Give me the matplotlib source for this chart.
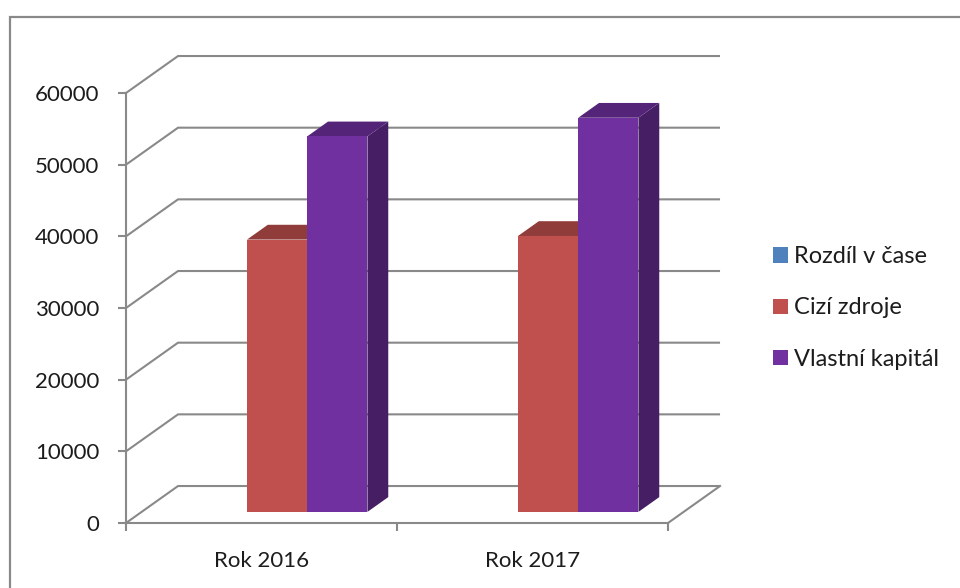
import matplotlib
matplotlib.use("Agg")
import matplotlib.pyplot as plt
from matplotlib.patches import Polygon, Patch, Rectangle
from matplotlib.colors import to_rgb

plt.rcParams['font.family'] = ['Lato', 'DejaVu Sans']

# chart data
categories = ["Rok 2016", "Rok 2017"]
series_names = ["Rozdíl v čase", "Cizí zdroje", "Vlastní kapitál"]
rozdil = [0, 0]
cizi_zdroje = [38000, 38500]
vlastni_kapital = [52400, 55000]
series_colors = ["#4F81BD", "#C0504D", "#7030A0"]
y_ticks = [0, 10000, 20000, 30000, 40000, 50000, 60000]

series_values = [rozdil, cizi_zdroje, vlastni_kapital]

GRID = "#898989"
TEXT = "#1c1c1c"

# oblique depth of the plot box, in data units
DX = 0.192
DY = 5160
# bars sit between these fractions of the depth
D_FRONT, D_BACK = 0.3, 0.7
GAP = 1.5  # gap width relative to bar width


def shade(color, f):
    r, g, b = to_rgb(color)
    return (r * f, g * f, b * f)


W, H = 960, 588
fig = plt.figure(figsize=(W / 100, H / 100), dpi=100)
ax = fig.add_axes([126 / W, 1 - 523 / H, (668 - 126) / W, (523 - 93) / H])
ax.set_xlim(0, len(categories))
ax.set_ylim(0, y_ticks[-1])
ax.patch.set_visible(False)

# outer chart frame (cut off at the right and bottom)
fig.patches.append(Rectangle((10 / W, -0.05), 1.0, 1 - 17 / H + 0.05,
                             transform=fig.transFigure, fill=False,
                             edgecolor=GRID, linewidth=1.6))

# gridlines on the left and back walls
xmax = len(categories)
for v in y_ticks:
    ax.plot([0, DX, xmax + DX], [v, v + DY, v + DY], color=GRID,
            linewidth=1.5, clip_on=False, zorder=1, solid_capstyle='butt')
# right edge of the floor
ax.plot([xmax, xmax + DX], [0, DY], color=GRID, linewidth=1.5,
        clip_on=False, zorder=1)

# 3D columns
n = len(series_values)
w = 1.0 / (n + GAP)
for ci in range(len(categories)):
    for si, vals in enumerate(series_values):
        v = vals[ci]
        if v == 0:
            continue
        col = series_colors[si]
        x0 = ci + 0.5 - n * w / 2 + si * w
        fx, fy = D_FRONT * DX, D_FRONT * DY
        bx, by = D_BACK * DX, D_BACK * DY
        front = Polygon([(x0 + fx, fy), (x0 + w + fx, fy),
                         (x0 + w + fx, v + fy), (x0 + fx, v + fy)],
                        closed=True, facecolor=col, edgecolor='none')
        top = Polygon([(x0 + fx, v + fy), (x0 + w + fx, v + fy),
                       (x0 + w + bx, v + by), (x0 + bx, v + by)],
                      closed=True, facecolor=shade(col, 0.75), edgecolor='none')
        side = Polygon([(x0 + w + fx, fy), (x0 + w + bx, by),
                        (x0 + w + bx, v + by), (x0 + w + fx, v + fy)],
                       closed=True, facecolor=shade(col, 0.62), edgecolor='none')
        for p in (side, top, front):
            p.set_clip_on(False)
            p.set_zorder(3 + ci * 10 + si)
            ax.add_patch(p)

# axes lines and ticks
for s in ("top", "right"):
    ax.spines[s].set_visible(False)
ax.spines["left"].set_bounds(0, y_ticks[-1])
ax.spines["bottom"].set_bounds(0, xmax)
for s in ("left", "bottom"):
    ax.spines[s].set_color(GRID)
    ax.spines[s].set_linewidth(1.5)
    ax.spines[s].set_zorder(2)

ax.set_yticks(y_ticks)
ax.set_yticklabels([str(t) for t in y_ticks])
ax.tick_params(axis='y', direction='out', length=6, width=1.5, color=GRID,
               pad=13, labelsize=16, labelcolor=TEXT)

ax.set_xticks(range(xmax + 1))
ax.set_xticklabels([])
ax.set_xticks([i + 0.5 for i in range(xmax)], minor=True)
ax.set_xticklabels(categories, minor=True)
ax.tick_params(axis='x', which='major', direction='out', length=6, width=1.5,
               color=GRID)
ax.tick_params(axis='x', which='minor', length=0, pad=20, labelsize=16,
               labelcolor=TEXT)

# legend
handles = [Patch(facecolor=c, edgecolor='none') for c in series_colors]
fig.legend(handles, series_names, loc='center left',
           bbox_to_anchor=(752 / W, 1 - 308 / H), frameon=False,
           fontsize=17, handlelength=0.62, handleheight=0.62,
           handletextpad=0.28, labelspacing=1.28, labelcolor=TEXT)

fig.savefig("out.png", dpi=100, facecolor="white")
